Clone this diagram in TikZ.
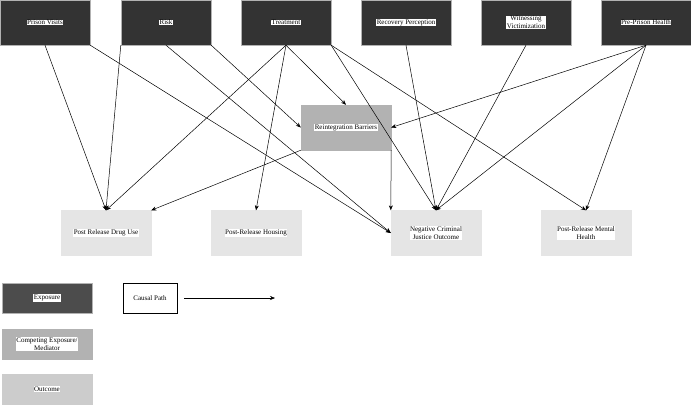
\documentclass[tikz,border=0pt]{standalone}
\usepackage{fontspec}
\setmainfont{Liberation Serif}
\usetikzlibrary{arrows.meta}
\begin{document}
\begin{tikzpicture}[x=1pt,y=-1pt,
 box/.style={minimum width=90pt,minimum height=45pt,draw=gray!60,line width=0.4pt},
 expo/.style={box,fill=black!80},
 medi/.style={box,fill=black!30},
 outc/.style={box,fill=black!10,draw=black!10},
 lab/.style={fill=white,inner sep=0.5pt,font=\fontsize{7}{8}\selectfont,align=center},
 arr/.style={-{Stealth[length=5pt,width=4pt]},line width=0.5pt}]
\useasboundingbox (0,0) rectangle (691,405);
\foreach \n/\x/\t in {pv/45/Prison Visits,rk/166/Risk,tr/286/Treatment,rp/406/Recovery Perception,wv/526/{Witnessing\\Victimization},ph/646/Pre-Prison Health}{
 \node[expo] (\n) at (\x,22.5) {}; \node[lab] at (\x,22.5) {\t};}
\node[medi] (rb) at (346,127.5) {}; \node[lab] at (346,127.5) {Reintegration Barriers};
\foreach \n/\x/\t in {du/106/Post Release Drug Use,hs/256/Post-Release Housing,nc/436/{Negative Criminal\\Justice Outcome},mh/586/{Post-Release Mental\\Health}}{
 \node[outc] (\n) at (\x,233) {}; \node[lab] at (\x,233) {\t};}
% edges
\draw[arr] (pv.south) -- (du.north);
\draw[arr] (pv.south east) -- (nc.west);
\draw[arr] (rk.south west) -- (du.north);
\draw[arr] (rk.south) -- (nc.west);
\draw[arr] (rk.south east) -- (rb.west);
\draw[arr] (tr.south) -- (du.north);
\draw[arr] (tr.south) -- (hs.north);
\draw[arr] (tr.south) -- (rb.north);
\draw[arr] (tr.south east) -- (nc.north);
\draw[arr] (tr.south east) -- (mh.north);
\draw[arr] (rp.south) -- (nc.north);
\draw[arr] (wv.south) -- (nc.north);
\draw[arr] (ph.south) -- (rb.east);
\draw[arr] (ph.south) -- (nc.north);
\draw[arr] (ph.south) -- (mh.north);
\draw[arr] (rb.south west) -- (du.north east);
\draw[arr] (rb.south east) -- (nc.north west);
% legend
\node[box,fill=black!70,minimum height=30pt] (le) at (47,298) {}; \node[lab] at (47,298) {Exposure};
\node[box,fill=black!30,minimum height=30pt] (lm) at (47,344) {}; \node[lab] at (47,344) {Competing Exposure/\\Mediator};
\node[box,fill=black!20,draw=black!20,minimum height=30pt] (lo) at (47,389) {}; \node[lab] at (47,389) {Outcome};
\node[draw,line width=0.6pt,minimum width=54pt,minimum height=30pt,font=\fontsize{7}{8}\selectfont] (cp) at (150,298) {Causal Path};
\coordinate (cs) at (184,298);
\coordinate (ce) at (275,298);
\draw[arr] (cs) -- (ce);
\end{tikzpicture}
\end{document}
